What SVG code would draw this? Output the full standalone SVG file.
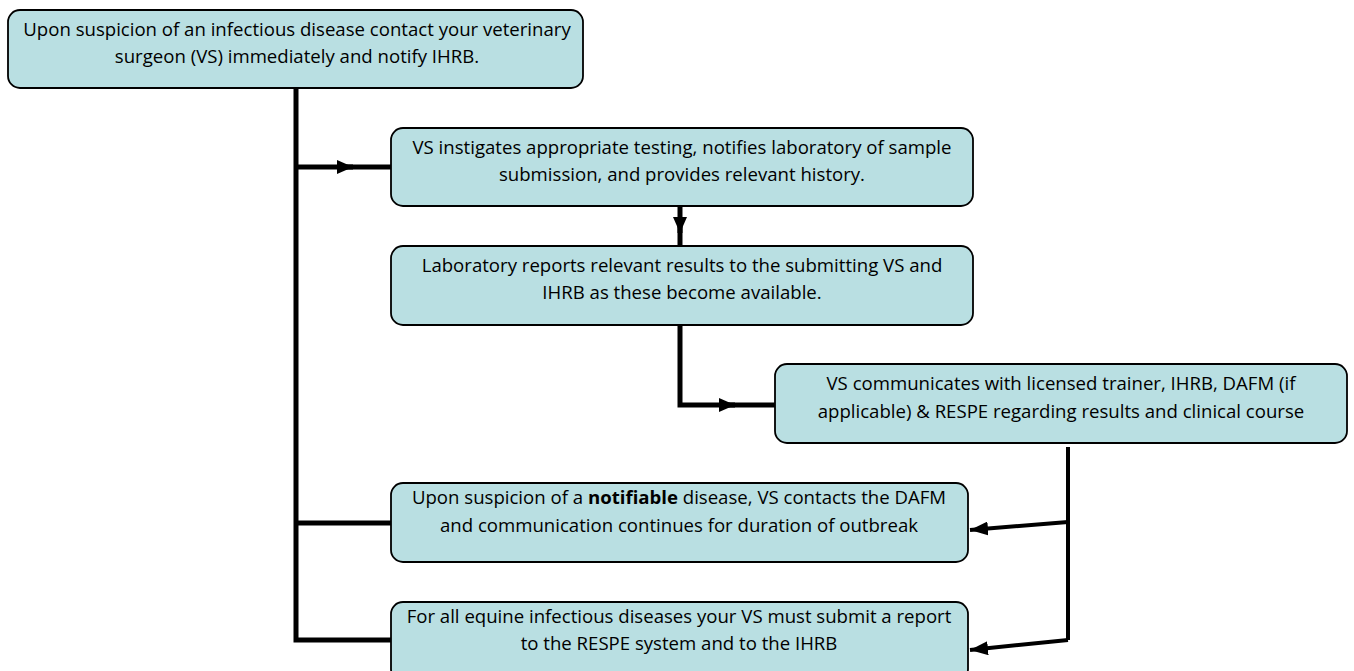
<svg xmlns="http://www.w3.org/2000/svg" width="1354" height="671" viewBox="0 0 1354 671">
<style>
.box{fill:#b9dfe2;stroke:#000;stroke-width:1.8}
.t{font-family:"Open Sans","Liberation Sans",sans-serif;font-size:18.6px;fill:#000;text-anchor:middle}
.c{fill:none;stroke:#000;stroke-width:5}
.c2{fill:none;stroke:#000;stroke-width:4}
</style>
<defs>
<marker id="mid" viewBox="0 0 16 14" refX="16" refY="7" markerWidth="16" markerHeight="14" markerUnits="userSpaceOnUse" orient="auto">
<path d="M0 0 L16 7 L0 14 Z" fill="#000"/>
</marker>
<marker id="end" viewBox="0 0 18 14" refX="18" refY="7" markerWidth="18" markerHeight="14" markerUnits="userSpaceOnUse" orient="auto">
<path d="M18 7 L0 0 L0 14 Z" fill="#000"/>
</marker>
</defs>
<g id="connectors">
<path class="c" d="M296 88 L296 640 L391 640"/>
<path class="c" d="M296 167 L391 167"/>
<path class="c" d="M340 167 L353 167" marker-end="url(#mid)"/>
<path class="c" d="M296 523 L391 523"/>
<path class="c" d="M680 207 L680 246"/>
<path class="c" d="M680 220 L680 233" marker-end="url(#mid)"/>
<path class="c" d="M680 325 L680 405 L775 405"/>
<path class="c" d="M720 405 L735 405" marker-end="url(#mid)"/>
<path class="c2" d="M1068 447 L1068 640"/>
<path class="c2" d="M1068 522 L970 530" marker-end="url(#end)"/>
<path class="c2" d="M1068 640 L970 650" marker-end="url(#end)"/>
</g>
<g id="n1">
<rect class="box" x="8" y="10" width="575" height="78" rx="12"/>
<text class="t" x="297" y="36">Upon suspicion of an infectious disease contact your veterinary</text>
<text class="t" x="297" y="63">surgeon (VS) immediately and notify IHRB.</text>
</g>
<g id="n2">
<rect class="box" x="391" y="128" width="582" height="78" rx="12"/>
<text class="t" x="682" y="154">VS instigates appropriate testing, notifies laboratory of sample</text>
<text class="t" x="682" y="181">submission, and provides relevant history.</text>
</g>
<g id="n3">
<rect class="box" x="391" y="246" width="582" height="79" rx="12"/>
<text class="t" x="682" y="272">Laboratory reports relevant results to the submitting VS and</text>
<text class="t" x="682" y="299">IHRB as these become available.</text>
</g>
<g id="n4">
<rect class="box" x="775" y="364" width="572" height="79" rx="12"/>
<text class="t" x="1061" y="390">VS communicates with licensed trainer, IHRB, DAFM (if</text>
<text class="t" x="1061" y="418">applicable) &amp; RESPE regarding results and clinical course</text>
</g>
<g id="n5">
<rect class="box" x="391" y="483" width="577" height="79" rx="12"/>
<text class="t" x="679" y="504">Upon suspicion of a <tspan font-weight="bold">notifiable</tspan> disease, VS contacts the DAFM</text>
<text class="t" x="679" y="532">and communication continues for duration of outbreak</text>
</g>
<g id="n6">
<rect class="box" x="391" y="602" width="577" height="79" rx="12"/>
<text class="t" x="679" y="623">For all equine infectious diseases your VS must submit a report</text>
<text class="t" x="679" y="650">to the RESPE system and to the IHRB</text>
</g>
</svg>
